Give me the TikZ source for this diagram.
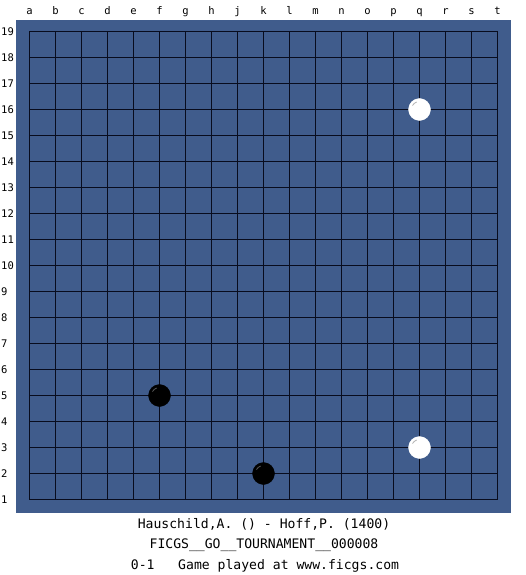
\documentclass[tikz,border=0pt]{standalone}
\usepackage{fontspec}
\setmonofont{DejaVu Sans Mono}
\definecolor{boardblue}{RGB}{64,92,140}
\definecolor{gridline}{RGB}{8,12,30}
\tikzset{
  coordlabel/.style={font=\ttfamily\fontsize{10.5}{12}\selectfont, text=black, inner sep=0pt, text height=7.5pt, text depth=0pt},
  caption/.style={font=\ttfamily\fontsize{13.1}{14}\selectfont, text=black, inner sep=0pt},
  whitestone/.style={circle, fill=white, draw=white, minimum size=22pt, inner sep=0pt},
  blackstone/.style={circle, fill=black, draw=black, minimum size=22pt, inner sep=0pt},
}
\begin{document}
\begin{tikzpicture}[x=1pt,y=-1pt]
\useasboundingbox (0,0) rectangle (525,575);
\fill[white] (0,0) rectangle (525,575);
\fill[boardblue] (16,20) rectangle (511,513);
% grid
\foreach \i in {0,...,18} {
  \draw[gridline, line width=1.5pt] (29.5+26*\i,31.5) -- (29.5+26*\i,499.5);
  \draw[gridline, line width=1.5pt] (29.5,31.5+26*\i) -- (497.5,31.5+26*\i);
}
% column letters
\foreach \l [count=\c from 0] in {a,b,c,d,e,f,g,h,j,k,l,m,n,o,p,q,r,s,t} {
  \node[coordlabel] (col\l) at (29.5+26*\c,11) {\l};
}
% row numbers
\foreach \r in {1,...,19} {
  \node[coordlabel, anchor=west] (row\r) at (1,31.5+26*19-26*\r) {\r};
}
% stones
\node[whitestone] (q16) at (419.5,109.5) {};
\node[whitestone] (q3) at (419.5,447.5) {};
\node[blackstone] (f5) at (159.5,395.5) {};
\node[blackstone] (k2) at (263.5,473.5) {};
% highlights
\draw[gray!60, line width=0.8pt] (q16.center) ++(-7,-4) arc[start angle=210, end angle=250, radius=8];
\draw[gray!60, line width=0.8pt] (q3.center) ++(-7,-4) arc[start angle=210, end angle=250, radius=8];
\draw[gray!70!black, line width=0.8pt] (f5.center) ++(-7,-4) arc[start angle=210, end angle=250, radius=8];
\draw[gray!70!black, line width=0.8pt] (k2.center) ++(-7,-4) arc[start angle=210, end angle=250, radius=8];
% captions
\node[caption] (line1) at (264,524) {Hauschild,A. () - Hoff,P. (1400)};
\node[caption] (line2) at (264,545) {FICGS\_\_GO\_\_TOURNAMENT\_\_000008};
\node[caption] (line3) at (265,566) {0-1\ \ \ Game played at www.ficgs.com};
\end{tikzpicture}
\end{document}
